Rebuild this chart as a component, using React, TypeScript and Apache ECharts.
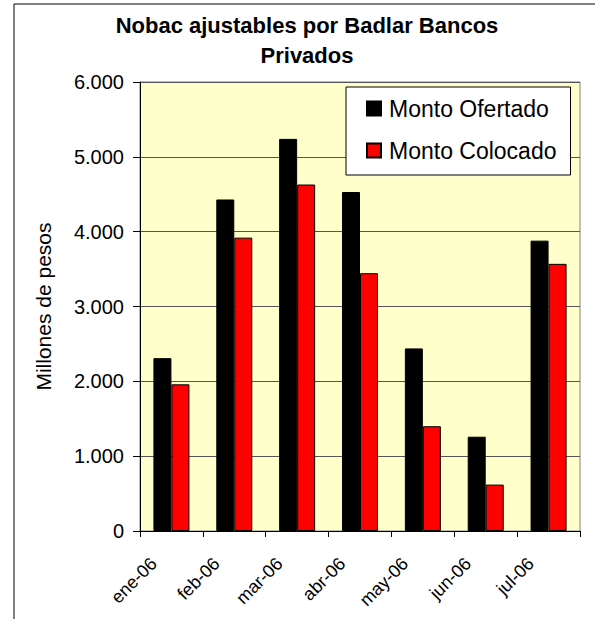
import React, { useEffect, useRef } from "react";
import * as echarts from "echarts";

const categories = ["ene-06", "feb-06", "mar-06", "abr-06", "may-06", "jun-06", "jul-06"];
const montoOfertado = [2310, 4430, 5240, 4530, 2440, 1260, 3880];
const montoColocado = [1960, 3920, 4630, 3445, 1400, 620, 3570];
const yTicks = [0, 1000, 2000, 3000, 4000, 5000, 6000];

const FONT = "'Liberation Sans', Arial, sans-serif";

function fmt(v: number): string {
  if (v === 0) return "0";
  const s = String(v);
  return s.replace(/\B(?=(\d{3})+(?!\d))/g, ".");
}

export default function App() {
  const ref = useRef<HTMLDivElement>(null);
  useEffect(() => {
    if (!ref.current) return;
    const chart = echarts.init(ref.current, null, { renderer: "svg" });
    chart.setOption({
      animation: false,
      backgroundColor: "#ffffff",
      textStyle: { fontFamily: FONT },
      title: {
        text: "Nobac ajustables por Badlar Bancos\nPrivados",
        left: 302,
        top: 5,
        textAlign: "center",
        textStyle: {
          fontFamily: FONT,
          fontSize: 22,
          fontWeight: "bold",
          color: "#000",
          lineHeight: 30,
        },
      },
      graphic: [
        {
          type: "rect",
          shape: { x: 14, y: 4, width: 700, height: 700 },
          style: { fill: "none", stroke: "#000", lineWidth: 1 },
          silent: true,
          z: 100,
        },
      ],
      legend: {
        orient: "vertical",
        left: 346,
        top: 87,
        padding: [10, 14, 13, 20],
        itemWidth: 14,
        itemHeight: 14,
        itemGap: 19,
        backgroundColor: "#ffffff",
        borderColor: "#000",
        borderWidth: 1,
        icon: "rect",
        textStyle: {
          fontFamily: FONT,
          fontSize: 23,
          color: "#000",
          padding: [0, 0, 0, 3],
        },
        data: ["Monto Ofertado", "Monto Colocado"],
      },
      grid: {
        left: 140,
        top: 82,
        width: 440,
        height: 449,
        show: true,
        backgroundColor: "#FFFFCC",
        borderColor: "#808080",
        borderWidth: 1,
      },
      xAxis: {
        type: "category",
        data: categories,
        boundaryGap: true,
        axisLine: { show: true, lineStyle: { color: "#000", width: 1 } },
        axisTick: { show: true, alignWithLabel: false, length: 6, lineStyle: { color: "#000" } },
        axisLabel: {
          rotate: 45,
          interval: 0,
          margin: 12,
          fontFamily: FONT,
          fontSize: 18,
          color: "#000",
          padding: [0, 25, 0, 0],
        },
      },
      yAxis: {
        type: "value",
        min: 0,
        max: 6000,
        interval: 1000,
        name: "Millones de pesos",
        nameLocation: "middle",
        nameGap: 86,
        nameTextStyle: { fontFamily: FONT, fontSize: 21, color: "#000" },
        axisLine: { show: true, lineStyle: { color: "#000", width: 1 } },
        axisTick: { show: true, length: 7, lineStyle: { color: "#000" } },
        splitLine: { show: true, lineStyle: { color: "#555", width: 1 } },
        axisLabel: {
          margin: 16,
          fontFamily: FONT,
          fontSize: 20,
          color: "#000",
          formatter: (v: number) => (yTicks.includes(v) ? fmt(v) : ""),
        },
      },
      series: [
        {
          name: "Monto Ofertado",
          type: "bar",
          data: montoOfertado,
          barWidth: 18,
          barGap: "0%",
          itemStyle: { color: "#000000", borderColor: "#000", borderWidth: 1 },
        },
        {
          name: "Monto Colocado",
          type: "bar",
          data: montoColocado,
          barWidth: 18,
          barGap: "0%",
          itemStyle: { color: "#FF0000", borderColor: "#000", borderWidth: 1 },
        },
      ],
    });
    return () => chart.dispose();
  }, []);
  return (
    <div
      ref={ref}
      style={{ position: "fixed", left: 0, top: 0, width: 595, height: 619 }}
    />
  );
}
